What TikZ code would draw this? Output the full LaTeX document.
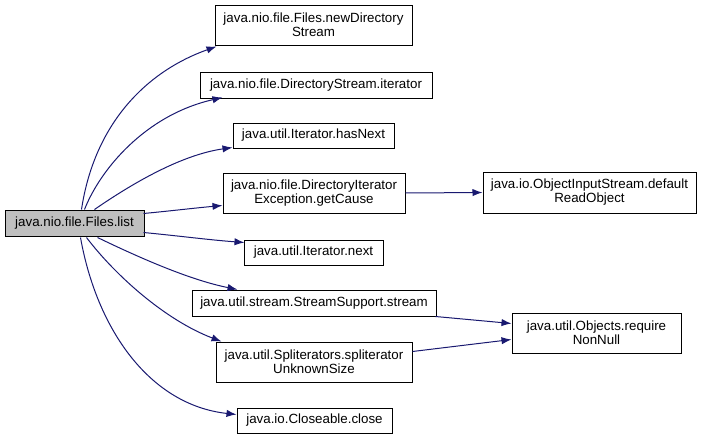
\documentclass[tikz,border=0pt]{standalone}
\usepackage{fontspec}
\setmainfont{Liberation Sans}
\usetikzlibrary{arrows.meta,calc}
\definecolor{edgeblue}{RGB}{25,25,112}
\definecolor{listgrey}{RGB}{191,191,191}
\newcommand\mybox[7][white]{%
  \node[box, fill=#1, minimum width={(#5-#3)*0.75pt}, minimum height={(#6-#4)*0.75pt}]
    (#2) at ({(#3+#5)/2},{(#4+#6)/2}) {#7};}
\begin{document}
\begin{tikzpicture}[x=0.75pt,y=-0.75pt,
  box/.style={draw=black, line width=0.75pt, rectangle, inner sep=0pt, align=center,
              font=\fontsize{10}{10.5}\selectfont},
  edge/.style={draw=edgeblue, line width=0.75pt,
               -{Latex[length=7.5pt,width=5.5pt,fill=edgeblue]}}]
\useasboundingbox (0,0) rectangle (701,439);

\mybox[listgrey]{list}{5}{210}{144}{236}{java.nio.file.Files.list}
\mybox{nds}{215}{5}{412}{45}{java.nio.file.Files.newDirectory\\Stream}
\mybox{iter}{200}{72}{432}{98}{java.nio.file.DirectoryStream.iterator}
\mybox{hasnext}{233}{123}{394}{148}{java.util.Iterator.hasNext}
\mybox{cause}{223}{173}{405}{213}{java.nio.file.DirectoryIterator\\Exception.getCause}
\mybox{next}{244}{240}{383}{265}{java.util.Iterator.next}
\mybox{stream}{192}{290}{436}{316}{java.util.stream.StreamSupport.stream}
\mybox{split}{216}{342}{412}{382}{java.util.Spliterators.spliterator\\UnknownSize}
\mybox{close}{237}{408}{392}{433}{java.io.Closeable.close}
\mybox{ois}{483}{172}{696}{213}{java.io.ObjectInputStream.default\\ReadObject}
\mybox{nn}{512}{313}{681}{353}{java.util.Objects.require\\NonNull}

\draw[edge] ($(list.north west)+(77,0)$) .. controls (95,120) and (150,70) .. ($(nds.south west)+(2,1)$);
\draw[edge] ($(list.north west)+(80,0)$) .. controls (100,170) and (145,115) .. ($(iter.south west)+(23,-1)$);
\draw[edge] ($(list.north west)+(90,0)$) .. controls (130,185) and (180,155) .. ($(hasnext.south west)+(0,-1)$);
\draw[edge] ($(list.north east)+(-1,4)$) .. controls (170,211) and (195,208) .. ($(cause.south west)+(0,-8)$);
\draw[edge] ($(list.south east)+(-1,-4)$) .. controls (180,236) and (210,240) .. ($(next.north west)+(1,3)$);
\draw[edge] ($(list.south west)+(93,1)$) .. controls (140,258) and (190,280) .. ($(stream.north west)+(46,0)$);
\draw[edge] ($(list.south west)+(82,1)$) .. controls (115,275) and (165,320) .. ($(split.north west)+(6,0)$);
\draw[edge] ($(list.south west)+(76,1)$) .. controls (97,330) and (150,405) .. ($(close.north west)+(0,7)$);
\draw[edge] (cause.east) -- (ois.west);
\draw[edge] ($(stream.south east)+(-1,0)$) -- ($(nn.north west)+(0,11)$);
\draw[edge] ($(split.north east)+(0,10)$) -- ($(nn.north west)+(0,27)$);
\end{tikzpicture}
\end{document}
